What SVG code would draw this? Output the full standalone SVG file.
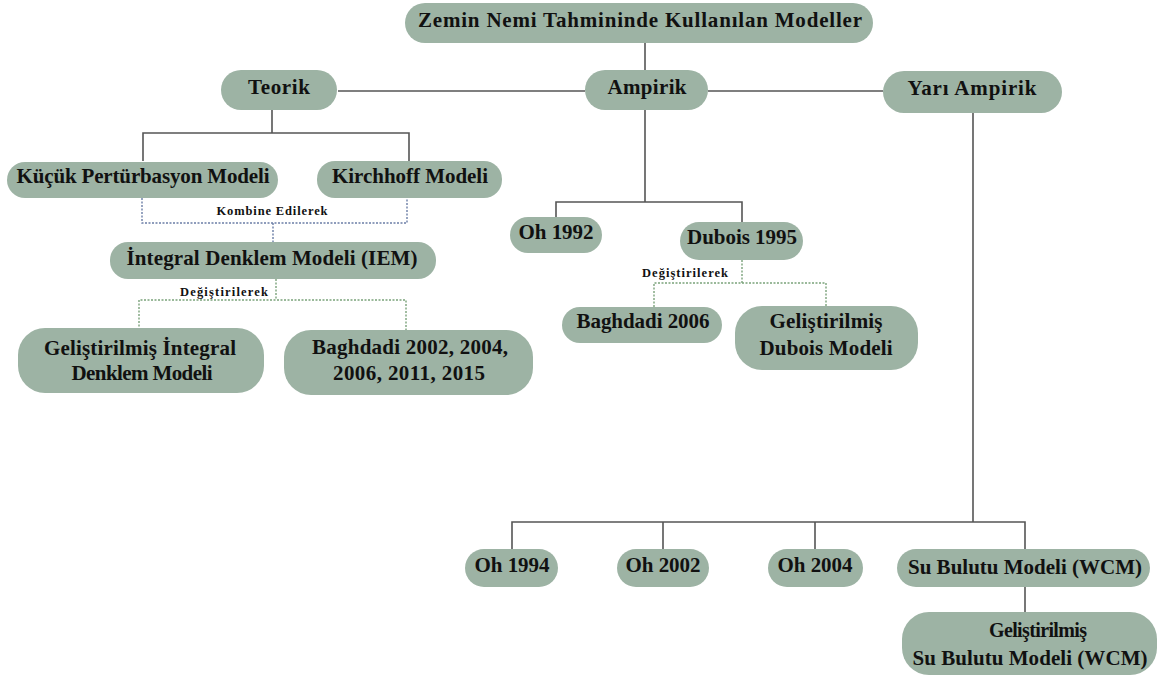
<svg xmlns="http://www.w3.org/2000/svg" width="1172" height="677" viewBox="0 0 1172 677">
<style>
.n{fill:#9db3a4}
.t{font-family:"Liberation Serif","Times New Roman",serif;font-weight:bold;font-size:21px;fill:#111;text-anchor:middle}
.s{font-size:12.5px}
.c{fill:none;stroke:#555;stroke-width:1.6}
.db{fill:none;stroke:#6b7ea6;stroke-width:1.4;stroke-dasharray:2 1.5}
.dg{fill:none;stroke:#7aa27a;stroke-width:1.4;stroke-dasharray:2 1.5}
</style>
<rect width="1172" height="677" fill="#fff"/>
<g id="connectors">
<path class="c" d="M645 43V70"/>
<path class="c" d="M338 91H585M708 91H883"/>
<path class="c" d="M272 110V133M143 161V133H409V161"/>
<path class="c" d="M645 110V202M556 217V202H742V222"/>
<path class="c" d="M973 113V522M512 549V522H1025V549M663 522V549M815 522V549"/>
<path class="c" d="M1025 587V612"/>
<path class="db" d="M142 198V223H407V198M273 223V242"/>
<path class="dg" d="M276 279V300M139 330V300H406V330"/>
<path class="dg" d="M742 260V283M654 307V283H826V306"/>
<text class="t s" x="272" y="215" textLength="111" lengthAdjust="spacing">Kombine Edilerek</text>
<text class="t s" x="224" y="296" textLength="88" lengthAdjust="spacing">Değiştirilerek</text>
<text class="t s" x="685" y="277" textLength="86" lengthAdjust="spacing">Değiştirilerek</text>
</g>
<g id="root"><rect class="n" x="405" y="3" width="468" height="40" rx="20"/><text class="t" x="640" y="27" textLength="444" lengthAdjust="spacing">Zemin Nemi Tahmininde Kullanılan Modeller</text></g>
<g id="teorik"><rect class="n" x="221" y="70" width="116" height="40" rx="20"/><text class="t" x="279" y="94" textLength="62" lengthAdjust="spacing">Teorik</text></g>
<g id="ampirik"><rect class="n" x="585" y="70" width="123" height="40" rx="20"/><text class="t" x="647" y="94" textLength="79" lengthAdjust="spacing">Ampirik</text></g>
<g id="yari"><rect class="n" x="883" y="71" width="179" height="42" rx="21"/><text class="t" x="972" y="95" textLength="129" lengthAdjust="spacing">Yarı Ampirik</text></g>
<g id="kucuk"><rect class="n" x="7" y="162" width="271" height="36" rx="18"/><text class="t" x="143" y="183" textLength="253" lengthAdjust="spacing">Küçük Pertürbasyon Modeli</text></g>
<g id="kirchhoff"><rect class="n" x="317" y="161" width="185" height="37" rx="18"/><text class="t" x="410" y="183" textLength="156" lengthAdjust="spacing">Kirchhoff Modeli</text></g>
<g id="iem"><rect class="n" x="110" y="242" width="326" height="37" rx="18"/><text class="t" x="272" y="265" textLength="291" lengthAdjust="spacing">İntegral Denklem Modeli (IEM)</text></g>
<g id="giem"><rect class="n" x="18" y="328" width="246" height="65" rx="27"/><text class="t" x="140" y="355" textLength="192" lengthAdjust="spacing">Geliştirilmiş İntegral</text><text class="t" x="142" y="380" textLength="141" lengthAdjust="spacing">Denklem Modeli</text></g>
<g id="baghdadi1"><rect class="n" x="284" y="330" width="249" height="65" rx="27"/><text class="t" x="410" y="354" textLength="196" lengthAdjust="spacing">Baghdadi 2002, 2004,</text><text class="t" x="409" y="380" textLength="152" lengthAdjust="spacing">2006, 2011, 2015</text></g>
<g id="oh1992"><rect class="n" x="510" y="217" width="92" height="36" rx="18"/><text class="t" x="556" y="239" textLength="75" lengthAdjust="spacing">Oh 1992</text></g>
<g id="dubois"><rect class="n" x="680" y="222" width="123" height="38" rx="19"/><text class="t" x="742" y="244" textLength="110" lengthAdjust="spacing">Dubois 1995</text></g>
<g id="baghdadi2006"><rect class="n" x="562" y="307" width="160" height="36" rx="18"/><text class="t" x="643" y="328" textLength="133" lengthAdjust="spacing">Baghdadi 2006</text></g>
<g id="gdubois"><rect class="n" x="735" y="306" width="183" height="64" rx="27"/><text class="t" x="826" y="328" textLength="113" lengthAdjust="spacing">Geliştirilmiş</text><text class="t" x="826" y="355" textLength="133" lengthAdjust="spacing">Dubois Modeli</text></g>
<g id="oh1994"><rect class="n" x="465" y="549" width="93" height="38" rx="19"/><text class="t" x="512" y="572" textLength="75" lengthAdjust="spacing">Oh 1994</text></g>
<g id="oh2002"><rect class="n" x="617" y="549" width="92" height="38" rx="19"/><text class="t" x="663" y="572" textLength="75" lengthAdjust="spacing">Oh 2002</text></g>
<g id="oh2004"><rect class="n" x="768" y="549" width="95" height="38" rx="19"/><text class="t" x="815" y="572" textLength="75" lengthAdjust="spacing">Oh 2004</text></g>
<g id="wcm"><rect class="n" x="897" y="549" width="253" height="38" rx="19"/><text class="t" x="1025" y="574" textLength="234" lengthAdjust="spacing">Su Bulutu Modeli (WCM)</text></g>
<g id="gwcm"><rect class="n" x="902" y="612" width="255" height="63" rx="27"/><text class="t" x="1038" y="637" style="font-size:20px" textLength="98" lengthAdjust="spacing">Geliştirilmiş</text><text class="t" x="1030" y="665" textLength="235" lengthAdjust="spacing">Su Bulutu Modeli (WCM)</text></g>
</svg>
